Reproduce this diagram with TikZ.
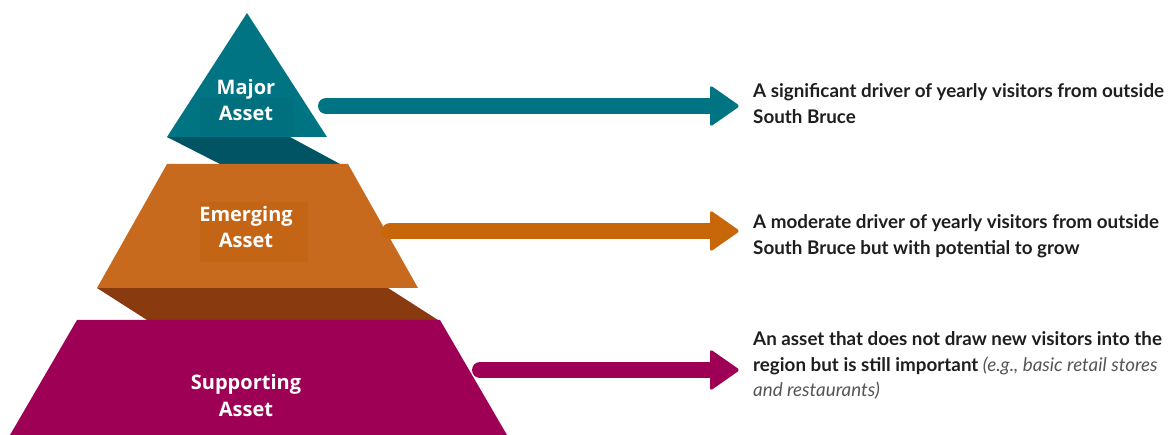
\documentclass[tikz,border=0pt]{standalone}
\usepackage{fontspec}
\setmainfont{Lato}
\newfontfamily\labelfont{Open Sans}
\usetikzlibrary{calc}
\definecolor{tealA}{RGB}{0,116,130}
\definecolor{tealB}{RGB}{0,112,126}
\definecolor{tealD}{RGB}{0,84,100}
\definecolor{orangeA}{RGB}{200,106,30}
\definecolor{orangeB}{RGB}{196,101,22}
\definecolor{orangeD}{RGB}{137,58,14}
\definecolor{orangeArrow}{RGB}{200,102,10}
\definecolor{magA}{RGB}{158,0,86}
\definecolor{txt}{RGB}{30,30,30}
\definecolor{itxt}{RGB}{85,85,85}
\newcommand\egtext[1]{{\mdseries\itshape\color{itxt}#1}}
\begin{document}
\begin{tikzpicture}[x=1pt,y=-1pt,
 lbl/.style={font=\labelfont\bfseries\fontsize{20}{26.5}\selectfont, text=white, align=center, inner sep=0pt},
 desc/.style={font=\bfseries\fontsize{18.8}{25.5}\selectfont, text=txt, align=left, anchor=north west, inner sep=0pt},
 shaft/.style={line width=16pt, line cap=round},
 head/.style={rounded corners=3pt},
]
\useasboundingbox (0,0) rectangle (1173,435);
% pyramid
\fill[tealD] (167,137) -- (290,137) -- (340,164) -- (220,164) -- cycle;
\fill[tealA] (247,13) -- (327,137) -- (167,137) -- cycle;
\fill[tealB] (200,97) rectangle (293,136);
\fill[orangeD] (97,288) -- (388,288) -- (438,320) -- (147,320) -- cycle;
\fill[orangeA] (167,164) -- (348,164) -- (418,288) -- (97,288) -- cycle;
\fill[orangeB] (200,202) rectangle (308,262);
\fill[magA] (77,320) -- (440,320) -- (507,435) -- (10,435) -- cycle;
% labels
\node[lbl] (major) at (246,100) {Major\\Asset};
\node[lbl] (emerging) at (246,227) {Emerging\\Asset};
\node[lbl] (supporting) at (246,395.5) {Supporting\\Asset};
% arrows
\coordinate (s1) at (326,106); \coordinate (h1) at (712,106); \coordinate (e1) at (740,106);
\coordinate (s2) at (390,231); \coordinate (h2) at (712,231); \coordinate (e2) at (740,231);
\coordinate (s3) at (480,370); \coordinate (h3) at (712,370); \coordinate (e3) at (740,370);
\draw[shaft, tealA] (s1) -- (h1);
\fill[head, tealA] ($(h1)+(-2,-21)$) -- (e1) -- ($(h1)+(-2,21)$) -- cycle;
\draw[shaft, orangeArrow] (s2) -- (h2);
\fill[head, orangeArrow] ($(h2)+(-2,-21)$) -- (e2) -- ($(h2)+(-2,21)$) -- cycle;
\draw[shaft, magA] (s3) -- (h3);
\fill[head, magA] ($(h3)+(-2,-21)$) -- (e3) -- ($(h3)+(-2,21)$) -- cycle;
% descriptions
\node[desc] (t1) at (753,83.5) {A significant driver of yearly visitors from outside\\South Bruce};
\node[desc] (t2) at (753,214.5) {A moderate driver of yearly visitors from outside\\South Bruce but with potential to grow};
\node[desc] (t3) at (753,331.5) {An asset that does not draw new visitors into the\\region but is still important \egtext{(e.g., basic retail stores}\\\egtext{and restaurants)}};
\end{tikzpicture}
\end{document}
